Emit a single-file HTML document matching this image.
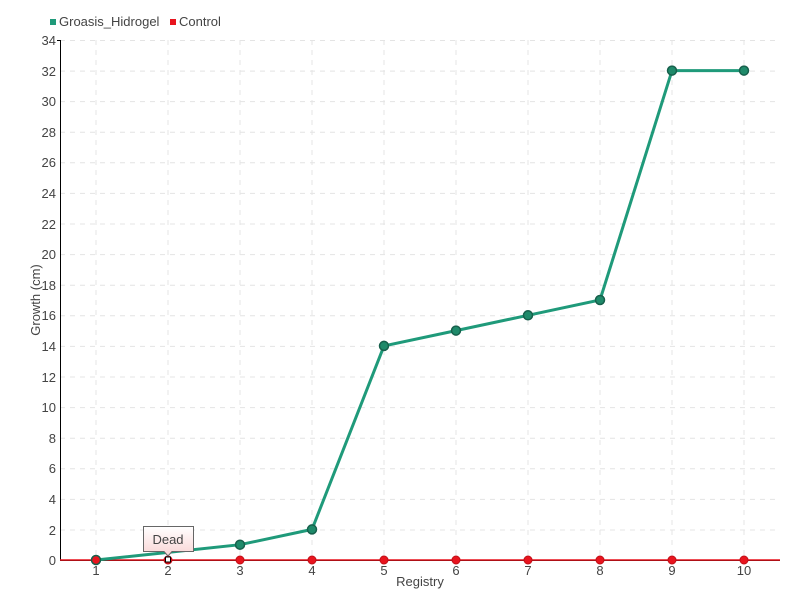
<!DOCTYPE html>
<html><head><style>body{margin:0;background:#fff}svg{display:block;font-family:"Liberation Sans",sans-serif}</style></head><body>
<svg width="800" height="600" xmlns="http://www.w3.org/2000/svg">
<rect width="800" height="600" fill="#fff"/>
<g stroke="#e4e4e4" stroke-dasharray="5,5" stroke-width="1">
<line x1="60" x2="780" y1="40.5" y2="40.5"/><line x1="60" x2="780" y1="71.1" y2="71.1"/><line x1="60" x2="780" y1="101.6" y2="101.6"/><line x1="60" x2="780" y1="132.2" y2="132.2"/><line x1="60" x2="780" y1="162.8" y2="162.8"/><line x1="60" x2="780" y1="193.4" y2="193.4"/><line x1="60" x2="780" y1="224" y2="224"/><line x1="60" x2="780" y1="254.6" y2="254.6"/><line x1="60" x2="780" y1="285.2" y2="285.2"/><line x1="60" x2="780" y1="315.8" y2="315.8"/><line x1="60" x2="780" y1="346.4" y2="346.4"/><line x1="60" x2="780" y1="377" y2="377"/><line x1="60" x2="780" y1="407.6" y2="407.6"/><line x1="60" x2="780" y1="438.2" y2="438.2"/><line x1="60" x2="780" y1="468.8" y2="468.8"/><line x1="60" x2="780" y1="499.4" y2="499.4"/><line x1="60" x2="780" y1="530" y2="530"/>
<line y1="40" y2="560" x1="96" x2="96"/><line y1="40" y2="560" x1="168" x2="168"/><line y1="40" y2="560" x1="240" x2="240"/><line y1="40" y2="560" x1="312" x2="312"/><line y1="40" y2="560" x1="384" x2="384"/><line y1="40" y2="560" x1="456" x2="456"/><line y1="40" y2="560" x1="528" x2="528"/><line y1="40" y2="560" x1="600" x2="600"/><line y1="40" y2="560" x1="672" x2="672"/><line y1="40" y2="560" x1="744" x2="744"/>
</g>
<line x1="60.5" x2="60.5" y1="40" y2="560" stroke="#000"/>
<line x1="60" x2="780" y1="560.5" y2="560.5" stroke="#000"/>
<g font-size="13" fill="#444" text-anchor="end">
<text x="56" y="45">34</text><text x="56" y="76">32</text><text x="56" y="106">30</text><text x="56" y="137">28</text><text x="56" y="167">26</text><text x="56" y="198">24</text><text x="56" y="229">22</text><text x="56" y="259">20</text><text x="56" y="290">18</text><text x="56" y="320">16</text><text x="56" y="351">14</text><text x="56" y="382">12</text><text x="56" y="412">10</text><text x="56" y="443">8</text><text x="56" y="473">6</text><text x="56" y="504">4</text><text x="56" y="535">2</text><text x="56" y="565">0</text>
</g>
<g stroke="#000"><line x1="57" x2="60" y1="40.5" y2="40.5"/></g>
<g font-size="13" fill="#444" text-anchor="middle">
<text x="96" y="575">1</text><text x="168" y="575">2</text><text x="240" y="575">3</text><text x="312" y="575">4</text><text x="384" y="575">5</text><text x="456" y="575">6</text><text x="528" y="575">7</text><text x="600" y="575">8</text><text x="672" y="575">9</text><text x="744" y="575">10</text>
<text x="420" y="586">Registry</text>
<text transform="translate(40,300) rotate(-90)">Growth (cm)</text>
</g>
<line x1="60" x2="780" y1="560" y2="560" stroke="#e8141e" stroke-width="1.5"/>
<g fill="#e8141e" stroke="#c01018"><circle cx="96" cy="560" r="4"/><circle cx="168" cy="560" r="4"/><circle cx="240" cy="560" r="4"/><circle cx="312" cy="560" r="4"/><circle cx="384" cy="560" r="4"/><circle cx="456" cy="560" r="4"/><circle cx="528" cy="560" r="4"/><circle cx="600" cy="560" r="4"/><circle cx="672" cy="560" r="4"/><circle cx="744" cy="560" r="4"/></g>
<polyline fill="none" stroke="#1f9a7a" stroke-width="3" points="96,560 168,552.4 240,544.7 312,529.4 384,345.9 456,330.6 528,315.3 600,300 672,70.6 744,70.6"/>
<g fill="#1f8a6a" stroke="#17604c" stroke-width="1.5"><circle cx="240" cy="544.7" r="4.5"/><circle cx="312" cy="529.4" r="4.5"/><circle cx="384" cy="345.9" r="4.5"/><circle cx="456" cy="330.6" r="4.5"/><circle cx="528" cy="315.3" r="4.5"/><circle cx="600" cy="300" r="4.5"/><circle cx="672" cy="70.6" r="4.5"/><circle cx="744" cy="70.6" r="4.5"/></g>
<circle cx="96" cy="560" r="4.5" fill="#e8141e" stroke="#17604c" stroke-width="1.5"/>
<defs><linearGradient id="g" x1="0" y1="0" x2="0" y2="1"><stop offset="0" stop-color="#fff"/><stop offset="1" stop-color="#f9d4d4"/></linearGradient></defs>
<path d="M143.5,526.5 H193.5 V551.5 H172 L168,556 L164,551.5 H143.5 Z" fill="url(#g)" stroke="#666"/>
<text x="168" y="544" font-size="13" fill="#444" text-anchor="middle">Dead</text>
<rect x="165.5" y="557" width="5" height="5" fill="#fff" stroke="#000"/>
<rect x="50" y="19" width="6" height="6" fill="#1f9a7a"/>
<text x="59" y="26" font-size="13" fill="#444">Groasis_Hidrogel</text>
<rect x="170" y="19" width="6" height="6" fill="#e8141e"/>
<text x="179" y="26" font-size="13" fill="#444">Control</text>
</svg>
</body></html>
